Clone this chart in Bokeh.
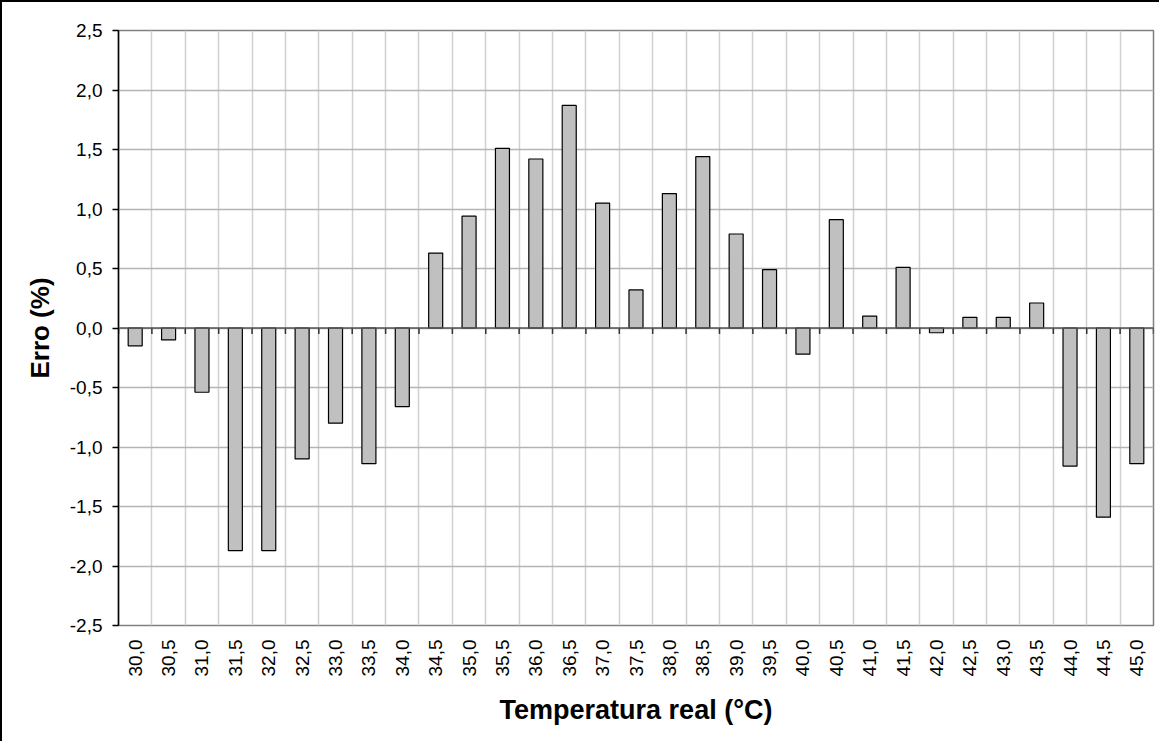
import numpy as np
from bokeh.plotting import figure
from bokeh.models import Range1d, FixedTicker, CustomJSTickFormatter, Span
from bokeh.embed import file_html
from bokeh.resources import INLINE

# ---- data ----
temperatures = ["30,0", "30,5", "31,0", "31,5", "32,0", "32,5", "33,0", "33,5",
                "34,0", "34,5", "35,0", "35,5", "36,0", "36,5", "37,0", "37,5",
                "38,0", "38,5", "39,0", "39,5", "40,0", "40,5", "41,0", "41,5",
                "42,0", "42,5", "43,0", "43,5", "44,0", "44,5", "45,0"]
errors = [-0.15, -0.10, -0.54, -1.87, -1.87, -1.10, -0.80, -1.14,
          -0.66, 0.63, 0.94, 1.51, 1.42, 1.87, 1.05, 0.32,
          1.13, 1.44, 0.79, 0.49, -0.22, 0.91, 0.10, 0.51,
          -0.04, 0.09, 0.09, 0.21, -1.16, -1.59, -1.14]
y_ticks = [-2.5, -2.0, -1.5, -1.0, -0.5, 0.0, 0.5, 1.0, 1.5, 2.0, 2.5]

n = len(temperatures)
centers = [i + 0.5 for i in range(n)]
bounds = list(range(n + 1))

FONT = "Liberation Sans"

p = figure(width=1159, height=741, output_backend="svg", toolbar_location=None,
           x_range=Range1d(0, n), y_range=Range1d(-2.5, 2.5),
           min_border_left=116, min_border_right=8, min_border_top=28,
           min_border_bottom=118, background_fill_color="white",
           border_fill_color="white")
p.styles = {"border-top": "2px solid black", "border-left": "2px solid black"}

p.outline_line_color = "#808080"
p.outline_line_width = 1.5

# grids
p.xgrid.ticker = FixedTicker(ticks=bounds)
p.xgrid.grid_line_color = "#d0d0d0"
p.xgrid.grid_line_width = 1.5
p.ygrid.ticker = FixedTicker(ticks=y_ticks)
p.ygrid.grid_line_color = "#b4b4b4"
p.ygrid.grid_line_width = 1.5

# bars
p.vbar(x=centers, top=errors, bottom=0, width=0.42,
       fill_color="#C0C0C0", line_color="black", line_width=1.2)

# zero line with category-boundary ticks
p.add_layout(Span(location=0, dimension="width", line_color="#555555", line_width=1.5))
p.segment(x0=bounds, y0=[0] * len(bounds), x1=bounds, y1=[-0.05] * len(bounds),
          line_color="#333333", line_width=1.5)

# x axis (labels only)
xa = p.xaxis[0]
xa.ticker = FixedTicker(ticks=centers)
xa.major_label_overrides = {c: t for c, t in zip(centers, temperatures)}
xa.major_label_orientation = np.pi / 2
xa.axis_line_color = None
xa.major_tick_line_color = None
xa.minor_tick_line_color = None
xa.major_tick_out = 0
xa.major_label_standoff = 14
xa.major_label_text_font = FONT
xa.major_label_text_font_size = "19px"
xa.major_label_text_color = "black"
xa.axis_label = "Temperatura real (°C)"
xa.axis_label_text_font = FONT
xa.axis_label_text_font_style = "bold"
xa.axis_label_text_font_size = "27px"
xa.axis_label_text_color = "black"
xa.axis_label_standoff = 16

# y axis
ya = p.yaxis[0]
ya.ticker = FixedTicker(ticks=y_ticks)
ya.formatter = CustomJSTickFormatter(code="return tick.toFixed(1).replace('.', ',');")
ya.axis_line_color = "black"
ya.axis_line_width = 1.5
ya.major_tick_line_color = "black"
ya.major_tick_line_width = 1.5
ya.major_tick_out = 6
ya.major_tick_in = 0
ya.minor_tick_line_color = None
ya.major_label_standoff = 10
ya.major_label_text_font = FONT
ya.major_label_text_font_size = "19px"
ya.major_label_text_color = "black"
ya.axis_label = "Erro (%)"
ya.axis_label_text_font = FONT
ya.axis_label_text_font_style = "bold"
ya.axis_label_text_font_size = "26px"
ya.axis_label_text_color = "black"
ya.axis_label_standoff = 12

open("out.html", "w").write(file_html(p, INLINE))
